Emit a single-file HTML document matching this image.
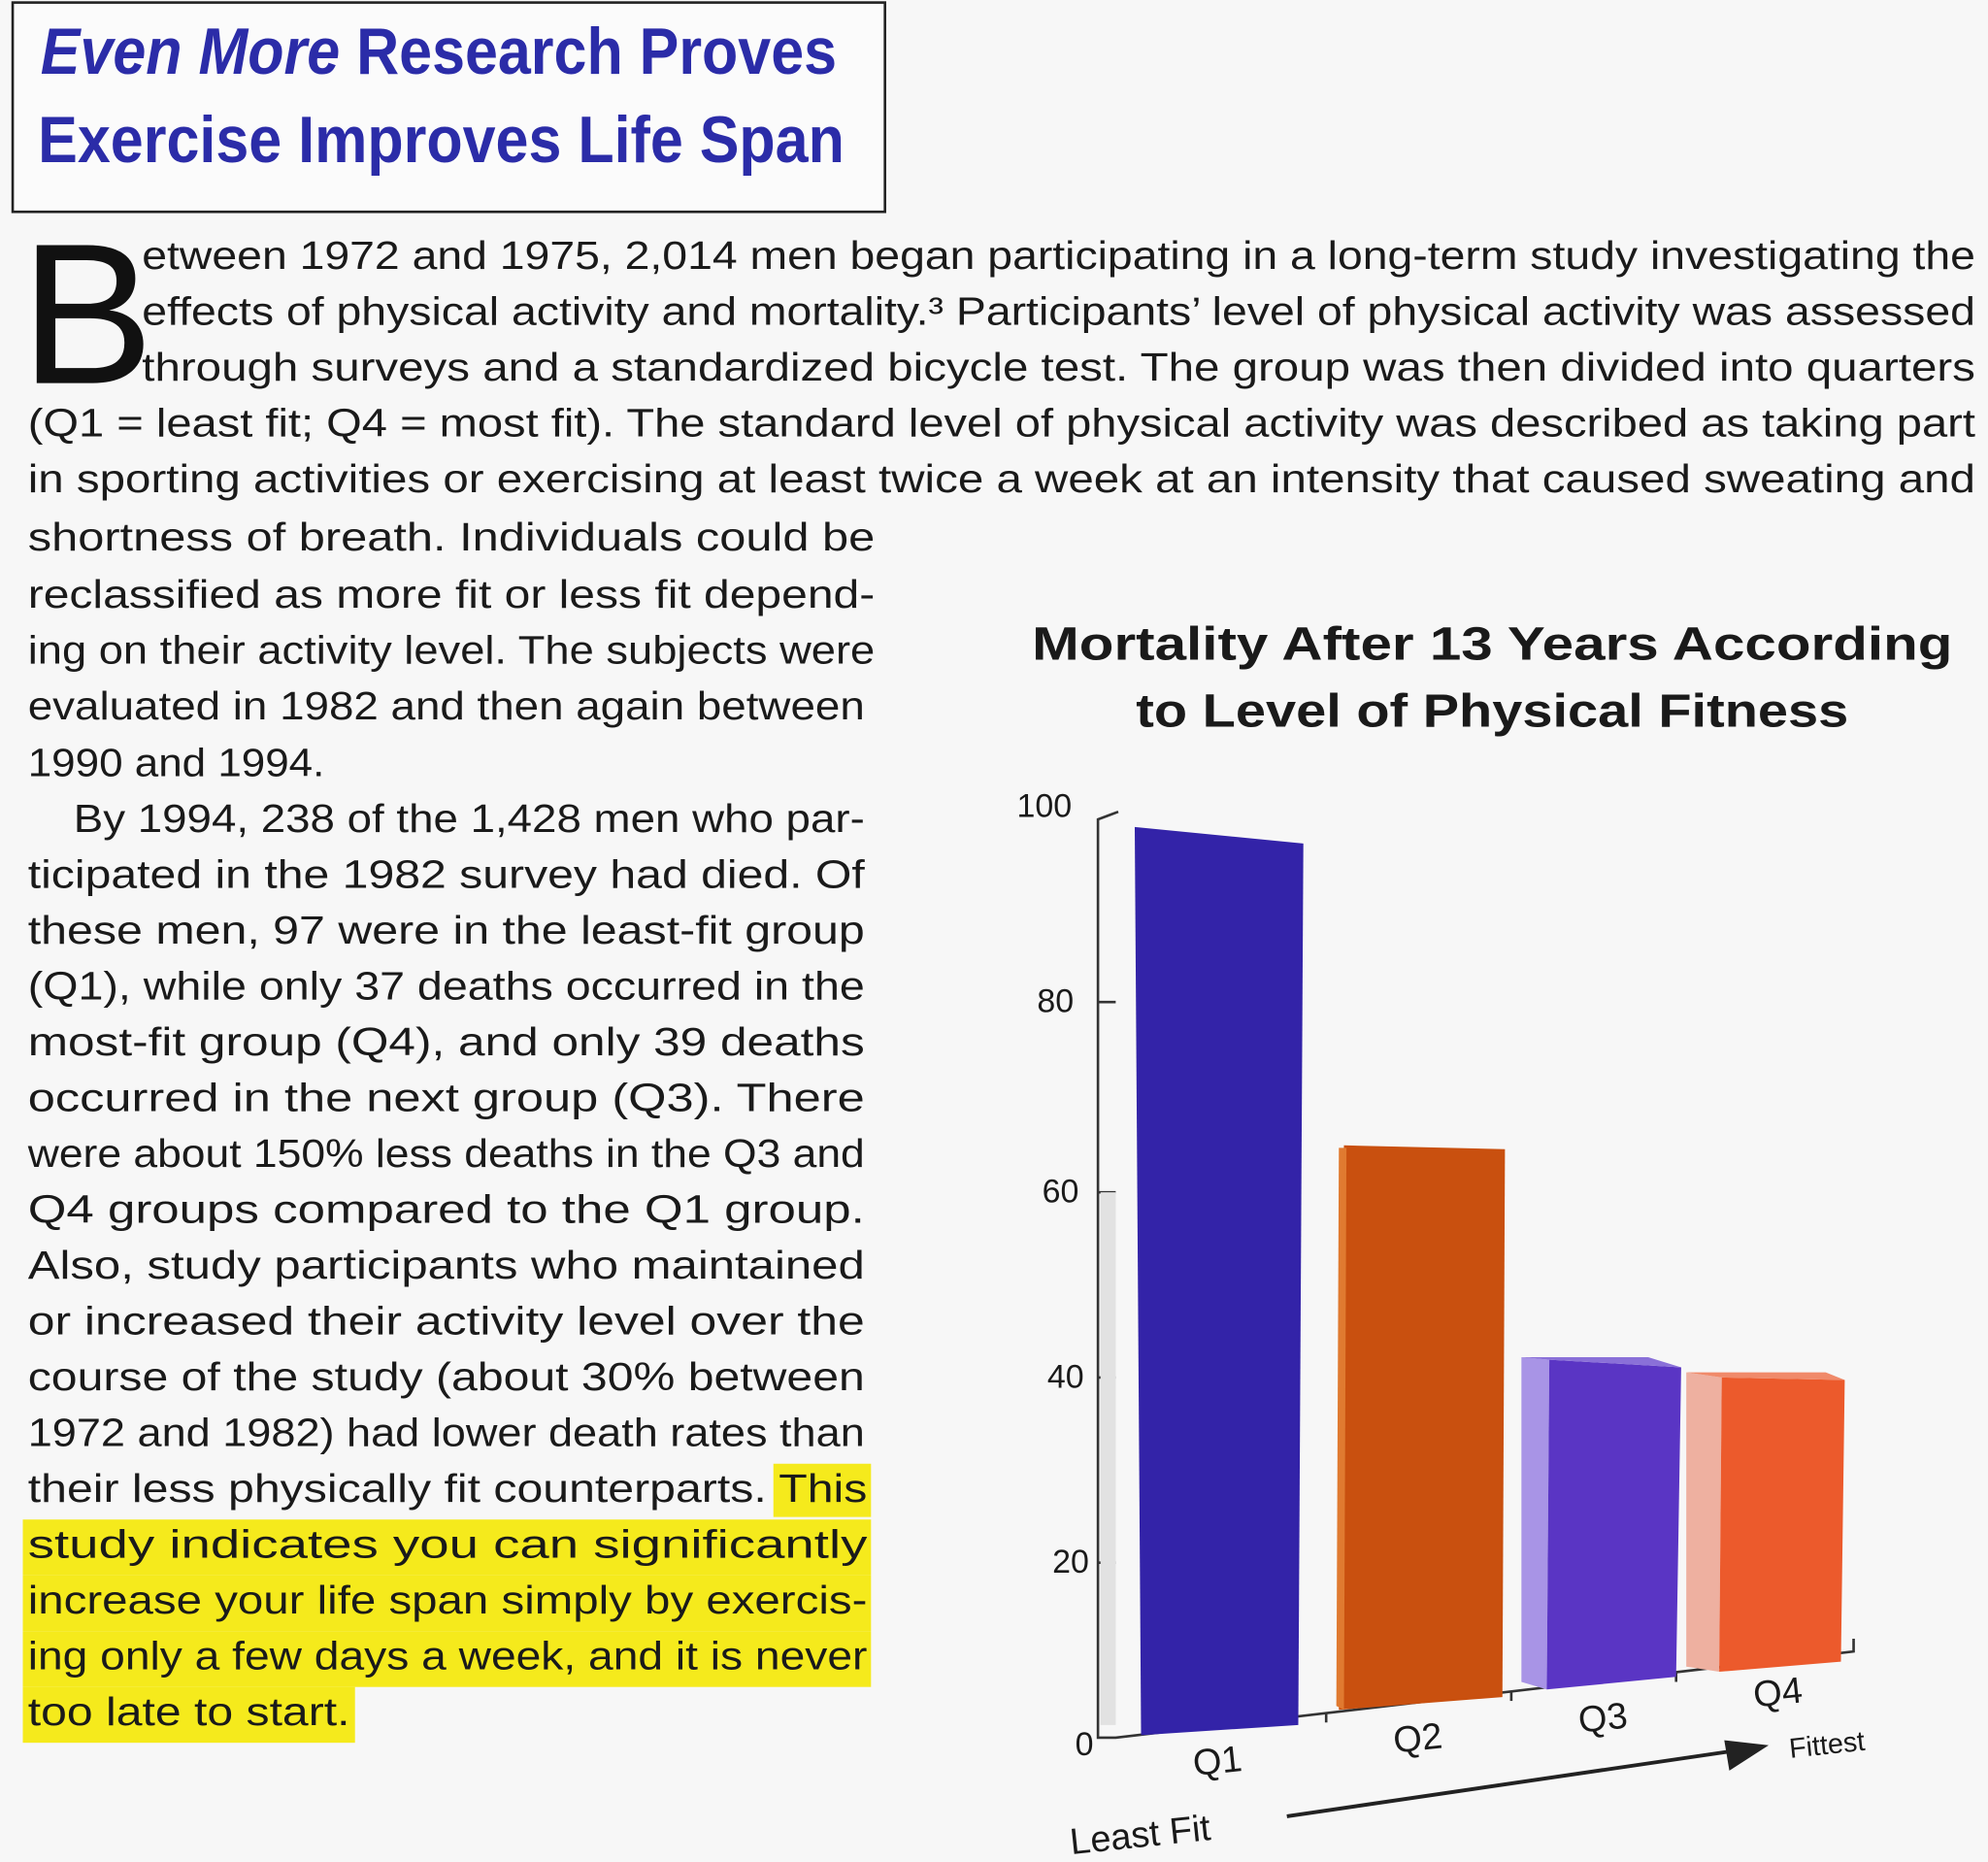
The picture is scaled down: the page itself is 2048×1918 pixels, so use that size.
<!DOCTYPE html>
<html><head><meta charset="utf-8"><style>
html,body{margin:0;padding:0;background:#f7f7f7;}
svg{display:block}
text{font-family:"Liberation Sans",sans-serif;fill:#1a1a1a}
</style></head><body>
<svg width="2048" height="1918" viewBox="0 0 1568 1468" preserveAspectRatio="none" xmlns="http://www.w3.org/2000/svg">
<rect width="1568" height="1468" fill="#f7f7f7"/>
<rect x="10" y="2" width="688" height="165" fill="#fbfbfb" stroke="#222" stroke-width="2"/>
<text x="32" y="58" font-size="52" font-weight="bold" style="fill:#2b2ca8" textLength="628" lengthAdjust="spacingAndGlyphs"><tspan font-style="italic">Even More</tspan> Research Proves</text>
<text x="30" y="128" font-size="52" font-weight="bold" style="fill:#2b2ca8" textLength="636" lengthAdjust="spacingAndGlyphs">Exercise Improves Life Span</text>
<text x="16" y="302" font-size="158" style="fill:#111">B</text>
<g font-size="31">
<text x="112" y="212" textLength="1446" lengthAdjust="spacingAndGlyphs">etween 1972 and 1975, 2,014 men began participating in a long-term study investigating the</text>
<text x="112" y="256" textLength="1446" lengthAdjust="spacingAndGlyphs">effects of physical activity and mortality.³ Participants’ level of physical activity was assessed</text>
<text x="112" y="300" textLength="1446" lengthAdjust="spacingAndGlyphs">through surveys and a standardized bicycle test. The group was then divided into quarters</text>
<text x="22" y="344" textLength="1536" lengthAdjust="spacingAndGlyphs">(Q1 = least fit; Q4 = most fit). The standard level of physical activity was described as taking part</text>
<text x="22" y="388" textLength="1536" lengthAdjust="spacingAndGlyphs">in sporting activities or exercising at least twice a week at an intensity that caused sweating and</text>
</g>
<g fill="#f5ea1c">
<rect x="610" y="1154" width="77" height="42"/>
<rect x="18" y="1198" width="669" height="44"/>
<rect x="18" y="1242" width="669" height="44"/>
<rect x="18" y="1286" width="669" height="44"/>
<rect x="18" y="1330" width="262" height="44"/>
</g>
<g font-size="31">
<text x="22" y="434" textLength="668" lengthAdjust="spacingAndGlyphs">shortness of breath. Individuals could be</text>
<text x="22" y="479" textLength="668" lengthAdjust="spacingAndGlyphs">reclassified as more fit or less fit depend-</text>
<text x="22" y="523" textLength="668" lengthAdjust="spacingAndGlyphs">ing on their activity level. The subjects were</text>
<text x="22" y="567" textLength="660" lengthAdjust="spacingAndGlyphs">evaluated in 1982 and then again between</text>
<text x="22" y="612" textLength="234" lengthAdjust="spacingAndGlyphs">1990 and 1994.</text>
<text x="58" y="656" textLength="624" lengthAdjust="spacingAndGlyphs">By 1994, 238 of the 1,428 men who par-</text>
<text x="22" y="700" textLength="660" lengthAdjust="spacingAndGlyphs">ticipated in the 1982 survey had died. Of</text>
<text x="22" y="744" textLength="660" lengthAdjust="spacingAndGlyphs">these men, 97 were in the least-fit group</text>
<text x="22" y="788" textLength="660" lengthAdjust="spacingAndGlyphs">(Q1), while only 37 deaths occurred in the</text>
<text x="22" y="832" textLength="660" lengthAdjust="spacingAndGlyphs">most-fit group (Q4), and only 39 deaths</text>
<text x="22" y="876" textLength="660" lengthAdjust="spacingAndGlyphs">occurred in the next group (Q3). There</text>
<text x="22" y="920" textLength="660" lengthAdjust="spacingAndGlyphs">were about 150% less deaths in the Q3 and</text>
<text x="22" y="964" textLength="660" lengthAdjust="spacingAndGlyphs">Q4 groups compared to the Q1 group.</text>
<text x="22" y="1008" textLength="660" lengthAdjust="spacingAndGlyphs">Also, study participants who maintained</text>
<text x="22" y="1052" textLength="660" lengthAdjust="spacingAndGlyphs">or increased their activity level over the</text>
<text x="22" y="1096" textLength="660" lengthAdjust="spacingAndGlyphs">course of the study (about 30% between</text>
<text x="22" y="1140" textLength="660" lengthAdjust="spacingAndGlyphs">1972 and 1982) had lower death rates than</text>
<text x="22" y="1184" textLength="662" lengthAdjust="spacingAndGlyphs">their less physically fit counterparts. This</text>
<text x="22" y="1228" textLength="662" lengthAdjust="spacingAndGlyphs">study indicates you can significantly</text>
<text x="22" y="1272" textLength="662" lengthAdjust="spacingAndGlyphs">increase your life span simply by exercis-</text>
<text x="22" y="1316" textLength="662" lengthAdjust="spacingAndGlyphs">ing only a few days a week, and it is never</text>
<text x="22" y="1360" textLength="254" lengthAdjust="spacingAndGlyphs">too late to start.</text>
</g>
<text x="1177" y="520" font-size="37" font-weight="bold" text-anchor="middle" textLength="726" lengthAdjust="spacingAndGlyphs">Mortality After 13 Years According</text>
<text x="1177" y="573" font-size="37" font-weight="bold" text-anchor="middle" textLength="562" lengthAdjust="spacingAndGlyphs">to Level of Physical Fitness</text>
<g stroke="#333" stroke-width="2" fill="none">
<polyline points="882,640 866,646 866,1370 880,1370 1462,1302 1462,1292"/>
<line x1="866" y1="790" x2="880" y2="790"/>
<line x1="866" y1="940" x2="880" y2="940"/>
<line x1="866" y1="1086" x2="880" y2="1086"/>
<line x1="866" y1="1232" x2="880" y2="1232"/>
<line x1="1046" y1="1350" x2="1046" y2="1358"/>
<line x1="1192" y1="1333" x2="1192" y2="1341"/>
<line x1="1322" y1="1318" x2="1322" y2="1326"/>
</g>
<rect x="868" y="940" width="12" height="420" fill="#e2e2e2"/>
<g font-size="26">
<text x="802" y="644">100</text>
<text x="818" y="798">80</text>
<text x="822" y="948">60</text>
<text x="826" y="1094">40</text>
<text x="830" y="1240">20</text>
<text x="848" y="1384">0</text>
</g>
<polygon points="895,652 1028,665 1024,1360 900,1368" fill="#3323a8"/>
<polygon points="1060,903 1187,906 1185,1338 1056,1348" fill="#c9500f"/>
<polygon points="1056,905 1062,905 1060,1348 1054,1345" fill="#e07a30"/>
<polygon points="1200,1070 1222,1072 1220,1332 1200,1326" fill="#a894e6"/>
<polygon points="1222,1072 1326,1078 1322,1322 1220,1332" fill="#5a35c4"/>
<polygon points="1200,1070 1300,1070 1326,1078 1222,1072" fill="#8a70d8"/>
<polygon points="1330,1082 1358,1086 1356,1318 1330,1314" fill="#eeb0a0"/>
<polygon points="1358,1086 1455,1088 1452,1310 1356,1318" fill="#ec5a2c"/>
<polygon points="1330,1082 1440,1082 1455,1088 1358,1086" fill="#f08a6a"/>
<g font-size="29">
<text x="942" y="1400" transform="rotate(-6 942 1400)">Q1</text>
<text x="1100" y="1382" transform="rotate(-6 1100 1382)">Q2</text>
<text x="1246" y="1366" transform="rotate(-6 1246 1366)">Q3</text>
<text x="1384" y="1346" transform="rotate(-6 1384 1346)">Q4</text>
<text x="1412" y="1386" font-size="22" transform="rotate(-6 1412 1386)">Fittest</text>
<text x="845" y="1462" transform="rotate(-6 845 1462)">Least Fit</text>
</g>
<line x1="1015" y1="1432" x2="1370" y2="1380" stroke="#222" stroke-width="3"/>
<polygon points="1395,1376 1360,1372 1364,1396" fill="#222"/>
</svg>
</body></html>
